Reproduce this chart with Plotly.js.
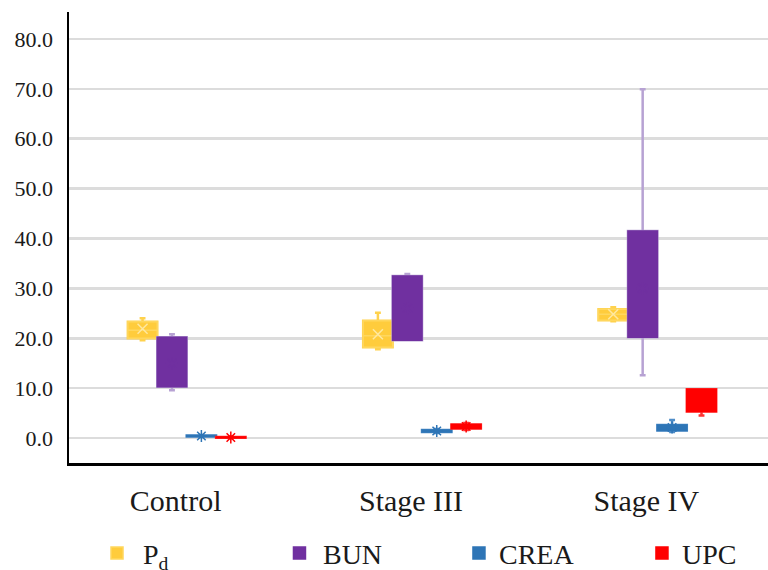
<!DOCTYPE html>
<html>
<head>
<meta charset="utf-8">
<script src="https://cdn.plot.ly/plotly-3.0.1.min.js"></script>
<style>html,body{margin:0;padding:0;background:#fff}#chart{width:768px;height:570px}</style>
</head>
<body>
<div id="chart"></div>
<script>
var categories = ["Control", "Stage III", "Stage IV"];
var seriesNames = ["P<sub>d</sub>", "BUN", "CREA", "UPC"];

// Pd
var pdQ1 = [20.0, 18.2, 23.6];
var pdMedian = [21.6, 20.5, 24.8];
var pdQ3 = [23.3, 23.5, 25.8];
var pdLow = [19.6, 17.8, 23.4];
var pdHigh = [24.0, 25.1, 26.2];
var pdMean = [21.9, 20.8, 24.8];

// BUN
var bunQ1 = [10.3, 19.6, 20.2];
var bunMedian = [15.0, 26.0, 30.0];
var bunQ3 = [20.2, 32.5, 41.5];
var bunLow = [9.6, 19.6, 12.6];
var bunHigh = [20.8, 32.9, 69.9];
var bunMean = [15.0, 26.0, 30.0];

// CREA
var creaQ1 = [0.3, 1.2, 1.5];
var creaMedian = [0.4, 1.4, 2.0];
var creaQ3 = [0.5, 1.6, 2.6];
var creaLow = [0.2, 1.0, 1.2];
var creaHigh = [0.6, 1.8, 3.6];
var creaMean = [0.4, 1.4, 2.1];

// UPC
var upcQ1 = [0.05, 1.9, 5.3];
var upcMedian = [0.1, 2.3, 7.0];
var upcQ3 = [0.2, 2.7, 9.8];
var upcLow = [0.0, 1.6, 4.5];
var upcHigh = [0.3, 3.0, 9.8];
var upcMean = [0.12, 2.3, 7.2];

var fillColors = ["#FFCC3C", "#7030A0", "#2E75B6", "#FF0000"];
var edgeColors = ["#FFD75E", "#7030A0", "#2E75B6", "#FF0000"];
var whiskerColors = ["#FFD24D", "#B7A2D3", "#4F8DC8", "#FF3333"];
var meanColors = ["#FFE8A0", "#7030A0", "#2E75B6", "#FF0000"];
var legendIds = ["legend", "legend2", "legend3", "legend4"];

var stats = [
  [pdQ1, pdMedian, pdQ3, pdLow, pdHigh, pdMean],
  [bunQ1, bunMedian, bunQ3, bunLow, bunHigh, bunMean],
  [creaQ1, creaMedian, creaQ3, creaLow, creaHigh, creaMean],
  [upcQ1, upcMedian, upcQ3, upcLow, upcHigh, upcMean]
];

var traces = [];
stats.forEach(function (s, i) {
  var g = "g" + i;
  traces.push({
    type: "box", x: categories, q1: s[0], median: s[1], q3: s[2],
    lowerfence: s[3], upperfence: s[4],
    offsetgroup: g, name: seriesNames[i], showlegend: false,
    line: {color: whiskerColors[i], width: 2.5},
    fillcolor: "rgba(0,0,0,0)", whiskerwidth: 0.2, hoverinfo: "skip"
  });
  traces.push({
    type: "box", x: categories, q1: s[0], median: s[1], q3: s[2],
    lowerfence: s[0], upperfence: s[2],
    offsetgroup: g, name: seriesNames[i], showlegend: true, legend: legendIds[i],
    line: {color: edgeColors[i], width: 1.5},
    fillcolor: fillColors[i], whiskerwidth: 0
  });
  traces.push({
    type: "box", x: categories, y: s[5],
    offsetgroup: g, name: seriesNames[i], showlegend: false,
    boxpoints: "all", jitter: 0, pointpos: 0,
    line: {color: "rgba(0,0,0,0)", width: 0},
    fillcolor: "rgba(0,0,0,0)",
    marker: {symbol: i === 0 ? "x-thin-open" : "asterisk-open", size: 10, color: meanColors[i], line: {color: meanColors[i], width: 1.5}},
    hoverinfo: "skip"
  });
});

var serif = "Liberation Serif, Times New Roman, serif";
var legendFont = {family: serif, size: 28, color: "#1a1a1a"};
function makeLegend(x, iw) {
  return {orientation: "h", x: x, xanchor: "left", y: -0.2, yanchor: "middle",
          font: legendFont, itemwidth: iw, bgcolor: "rgba(0,0,0,0)", borderwidth: 0};
}

var layout = {
  width: 768, height: 570,
  margin: {l: 69, r: 0, t: 12, b: 107, autoexpand: false},
  paper_bgcolor: "#fff", plot_bgcolor: "#fff",
  boxmode: "group", boxgap: 0.5, boxgroupgap: 0,
  font: {family: serif, color: "#000"},
  xaxis: {
    type: "category", range: [-0.5, 2.47],
    showline: true, linecolor: "#000", linewidth: 2.5,
    showgrid: false, zeroline: false,
    ticks: "outside", ticklen: 9, tickcolor: "rgba(0,0,0,0)",
    ticklabelshift: -11,
    tickfont: {family: serif, size: 30, color: "#1a1a1a"}
  },
  yaxis: {
    range: [-5, 85.4], dtick: 10, tick0: 0, tickformat: ".1f",
    showline: true, linecolor: "#000", linewidth: 2.5,
    showgrid: true, gridcolor: "#dcdcdc", gridwidth: 2.5, zeroline: false,
    ticks: "outside", ticklen: 9, tickcolor: "rgba(0,0,0,0)",
    tickfont: {family: serif, size: 22, color: "#1a1a1a"}
  },
  showlegend: true,
  legend: makeLegend(0.0315, 42),
  legend2: makeLegend(0.2961, 37),
  legend3: makeLegend(0.5579, 30),
  legend4: makeLegend(0.8197, 30)
};

Plotly.newPlot("chart", traces, layout, {displayModeBar: false, staticPlot: true});
</script>
</body>
</html>
